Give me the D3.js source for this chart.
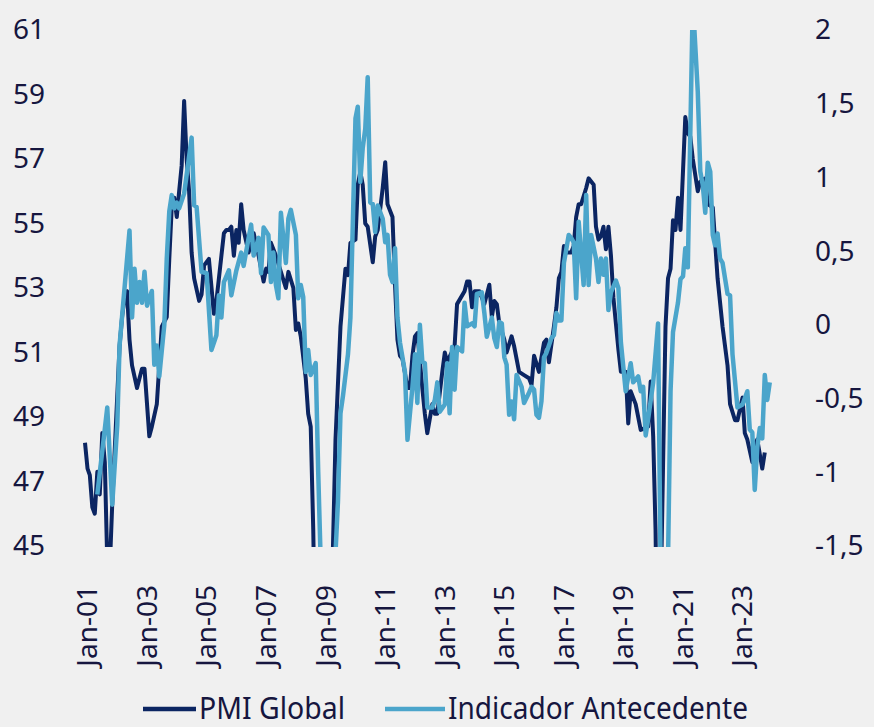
<!DOCTYPE html>
<html>
<head>
<meta charset="utf-8">
<script src="https://cdn.jsdelivr.net/npm/d3@7"></script>
<style>
  body { margin: 0; background: #f0f0f0; }
  svg { display: block; font-family: "Noto Sans", sans-serif; }
</style>
</head>
<body>
<svg class="chart"></svg>
<script>
// DATA ///////////////////////////////////////
const pmiDates = [
  "2001-01","2001-02","2001-03","2001-04","2001-05","2001-06","2001-07","2001-08","2001-09","2001-10","2001-11","2001-12",
  "2002-03","2002-04","2002-05","2002-06","2002-07","2002-08","2002-10","2002-12",
  "2003-01","2003-03","2003-04","2003-06","2003-08","2003-10","2003-11","2003-12",
  "2004-01","2004-02","2004-03","2004-04","2004-05","2004-06","2004-07","2004-08","2004-09","2004-11","2004-12",
  "2005-01","2005-03","2005-05","2005-06","2005-09","2005-10","2005-11","2005-12",
  "2006-01","2006-02","2006-03","2006-04","2006-05","2006-07","2006-08","2006-09","2006-11",
  "2007-01","2007-02","2007-03","2007-04","2007-06","2007-08","2007-10","2007-11",
  "2008-01","2008-02","2008-03","2008-04","2008-06","2008-07","2008-08","2008-09","2008-10","2008-11","2008-12",
  "2009-01","2009-02","2009-03","2009-04","2009-05","2009-06","2009-08","2009-10","2009-11","2009-12",
  "2010-02","2010-03","2010-04","2010-05","2010-06","2010-07","2010-09","2010-10","2010-11",
  "2011-01","2011-02","2011-03","2011-05","2011-06","2011-07","2011-08","2011-09","2011-11","2011-12",
  "2012-01","2012-02","2012-03","2012-05","2012-06","2012-07","2012-09","2012-10","2012-11",
  "2013-01","2013-02","2013-03","2013-06","2013-07","2013-10","2013-11","2013-12",
  "2014-01","2014-02","2014-04","2014-06","2014-08","2014-09","2014-10","2014-11","2014-12",
  "2015-02","2015-03","2015-05","2015-06","2015-08","2015-10","2015-12",
  "2016-01","2016-02","2016-04","2016-06","2016-07","2016-08","2016-10","2016-11","2016-12",
  "2017-01","2017-02","2017-03","2017-05","2017-06","2017-07","2017-08","2017-09","2017-11","2017-12",
  "2018-01","2018-02","2018-03","2018-04","2018-05","2018-06","2018-07","2018-08","2018-09","2018-10","2018-12",
  "2019-01","2019-03","2019-04","2019-05","2019-07","2019-09","2019-12",
  "2020-01","2020-02","2020-03","2020-04","2020-05","2020-06","2020-07","2020-08","2020-09","2020-10","2020-11","2020-12",
  "2021-01","2021-03","2021-04","2021-05","2021-06","2021-08","2021-09","2021-11","2021-12",
  "2022-02","2022-04","2022-06","2022-08","2022-09","2022-11","2022-12",
  "2023-02","2023-03","2023-04","2023-06","2023-07","2023-08","2023-10","2023-11"
];
const pmiValues = [
  48.2,47.4,47.2,46.2,46.0,47.3,46.6,48.5,47.6,44.5,44.3,46.3,
  51.2,52.1,52.7,52.9,51.4,50.6,49.9,50.5,
  50.5,48.4,48.7,49.4,51.8,52.1,53.9,55.5,
  55.8,55.2,56.0,56.8,58.8,57.0,56.0,54.1,53.3,52.6,52.8,
  53.7,53.9,52.2,52.6,54.7,54.8,54.8,54.9,
  54.0,54.8,54.4,55.6,54.8,54.1,54.4,54.7,54.0,
  53.2,53.6,53.5,54.4,54.0,53.5,53.0,53.5,
  53.0,51.7,51.9,51.5,50.2,49.1,48.7,45.5,41.0,37.5,33.5,
  34.5,35.0,37.5,41.0,45.0,48.3,51.8,53.6,53.4,54.4,
  54.5,56.2,56.6,56.2,55.0,54.9,53.8,54.6,54.8,
  56.1,56.9,55.6,55.2,53.1,51.4,50.9,50.8,49.9,49.9,
  50.9,51.5,51.6,49.9,49.1,48.5,49.4,49.1,49.1,
  50.4,51.0,50.7,51.2,52.5,52.9,53.2,53.2,
  52.4,52.9,52.9,52.5,53.1,52.1,52.6,52.5,51.9,
  51.4,51.0,51.5,51.2,50.4,50.3,50.2,
  50.0,50.9,50.4,51.3,51.4,50.7,51.8,52.4,53.3,
  53.5,54.3,54.1,54.1,54.3,55.2,55.6,55.6,56.1,56.4,
  56.3,56.2,54.9,54.5,54.6,54.9,54.2,54.9,54.0,52.7,51.1,
  50.4,50.4,48.8,49.8,49.4,48.6,48.7,
  50.1,48.4,45.5,39.5,43.0,47.5,51.8,53.3,53.6,55.1,54.8,55.8,
  54.8,58.3,57.8,57.7,57.0,56.0,56.3,56.4,55.6,
  55.5,53.3,51.8,50.6,49.4,48.9,48.9,
  49.6,48.5,48.3,47.6,48.1,48.3,47.4,47.9
];

const indDates = [
  "2001-06","2001-10","2001-12",
  "2002-02","2002-03","2002-07","2002-08","2002-09","2002-10","2002-11","2002-12",
  "2003-01","2003-02","2003-04","2003-05","2003-06","2003-07","2003-09","2003-10","2003-11","2003-12",
  "2004-01","2004-02","2004-03","2004-05","2004-08","2004-09","2004-10","2004-12",
  "2005-02","2005-04","2005-06","2005-07","2005-08","2005-09","2005-11","2005-12",
  "2006-02","2006-04","2006-05","2006-07","2006-08","2006-09","2006-11","2006-12",
  "2007-01","2007-03","2007-04","2007-05","2007-06","2007-07","2007-08","2007-10","2007-11","2007-12",
  "2008-02","2008-03","2008-04","2008-05","2008-06","2008-07","2008-08","2008-10","2008-11","2008-12",
  "2009-01","2009-02","2009-03","2009-04","2009-05","2009-06","2009-07","2009-08","2009-09","2009-11","2009-12",
  "2010-02","2010-03","2010-04","2010-05","2010-06","2010-07","2010-08","2010-09","2010-10","2010-11",
  "2011-01","2011-02","2011-03","2011-04","2011-05","2011-06","2011-07","2011-08","2011-10","2011-11",
  "2012-01","2012-02","2012-03","2012-04","2012-05","2012-06","2012-07","2012-09","2012-10","2012-11","2012-12",
  "2013-02","2013-03","2013-04","2013-05","2013-06","2013-07","2013-09","2013-10","2013-11",
  "2014-01","2014-02","2014-03","2014-05","2014-06","2014-07","2014-09","2014-10","2014-11","2014-12",
  "2015-01","2015-02","2015-03","2015-04","2015-05","2015-06","2015-07","2015-09","2015-10","2015-12",
  "2016-01","2016-02","2016-03","2016-04","2016-05","2016-06","2016-07","2016-09","2016-10","2016-11","2016-12",
  "2017-01","2017-02","2017-04","2017-05","2017-06","2017-07","2017-08","2017-10","2017-11","2017-12",
  "2018-01","2018-03","2018-04","2018-05","2018-06","2018-07","2018-08","2018-09","2018-11","2018-12",
  "2019-01","2019-03","2019-05","2019-06","2019-08","2019-09","2019-10","2019-11","2019-12",
  "2020-02","2020-04","2020-05","2020-06","2020-07","2020-08","2020-09","2020-10","2020-12",
  "2021-01","2021-02","2021-03","2021-04","2021-05","2021-06","2021-08","2021-09","2021-10","2021-11","2021-12",
  "2022-01","2022-02","2022-03","2022-04","2022-05","2022-06","2022-08","2022-09","2022-10","2022-12",
  "2023-02","2023-04","2023-05","2023-06","2023-07","2023-08","2023-09","2023-10","2023-11","2023-12",
  "2024-01"
];
const indValues = [
  -1.15,-0.56,-1.22,
  -0.68,-0.14,0.64,0.05,0.38,0.15,0.29,0.15,
  0.36,0.13,0.23,-0.27,-0.14,-0.35,0.0,0.45,0.77,0.88,
  0.79,0.83,0.79,0.89,1.27,0.81,0.80,0.36,
  0.35,-0.17,-0.07,0.20,0.05,0.29,0.37,0.20,
  0.37,0.49,0.40,0.59,0.68,0.47,0.59,0.35,
  0.66,0.61,0.29,0.49,0.27,0.18,0.76,0.42,0.72,0.78,
  0.61,0.18,0.27,0.19,-0.32,-0.17,-0.34,-0.26,-1.0,-1.6,
  -2.3,-2.6,-2.4,-2.1,-1.8,-1.55,-1.2,-0.6,-0.48,-0.2,0.05,
  1.40,1.48,0.97,1.20,1.33,1.68,0.83,0.82,0.63,0.81,
  0.72,0.56,0.61,0.34,0.29,0.52,0.05,-0.12,-0.32,-0.78,
  -0.42,-0.20,-0.53,0.0,-0.25,-0.26,-0.56,-0.56,-0.51,-0.39,-0.59,
  -0.54,-0.26,-0.60,-0.15,-0.44,-0.15,-0.18,0.15,-0.01,
  0.01,-0.01,0.21,0.22,0.08,-0.08,0.05,-0.09,-0.15,0.02,
  0.01,-0.22,-0.27,-0.61,-0.52,-0.64,-0.34,-0.42,-0.53,-0.46,
  -0.42,-0.44,-0.61,-0.63,-0.52,-0.22,-0.19,-0.09,-0.07,0.08,0.03,
  0.03,0.42,0.61,0.59,0.56,0.18,0.70,0.27,0.88,0.27,
  0.61,0.45,0.29,0.45,0.34,0.45,0.10,0.22,0.30,0.25,
  -0.12,-0.45,-0.26,-0.39,-0.35,-0.45,-0.42,-0.75,-0.64,
  -0.39,0.01,-1.6,-3.0,-2.5,-1.6,-0.45,-0.05,0.15,
  0.31,0.33,0.52,0.39,1.29,2.2,1.58,1.04,0.95,0.76,1.10,
  1.04,0.61,0.54,0.62,0.45,0.42,0.21,0.20,-0.20,-0.56,
  -0.54,-0.45,-0.71,-0.73,-1.12,-0.83,-0.70,-0.77,-0.34,-0.51,
  -0.39
];

const xTickDates = ["2001-01","2003-01","2005-01","2007-01","2009-01","2011-01",
  "2013-01","2015-01","2017-01","2019-01","2021-01","2023-01"];
const leftTicks = [45, 47, 49, 51, 53, 55, 57, 59, 61];
const rightTicks = [-1.5, -1, -0.5, 0, 0.5, 1, 1.5, 2];
const seriesNames = ["PMI Global", "Indicador Antecedente"];

// DEFINITIONS ////////////////////////////////
const W = 874, H = 727;
const plotTop = 30, plotBottom = 546;
const navy = "#0b2562", light = "#4ba5cb", ink = "#16163f";
const parse = d3.timeParse("%Y-%m");

const svg = d3.select(".chart").attr("width", W).attr("height", H);
svg.append("rect").attr("width", W).attr("height", H).attr("fill", "#f0f0f0");

const x = d3.scaleTime()
  .domain([parse("2001-01"), parse("2023-01")])
  .range([85, 740]);
const yL = d3.scaleLinear().domain([45, 61]).range([plotBottom, plotTop]);
const yR = d3.scaleLinear().domain([-1.5, 2]).range([plotBottom, plotTop]);

const pmi = pmiDates.map((d, i) => ({ date: parse(d), v: pmiValues[i] }));
const ind = indDates.map((d, i) => ({ date: parse(d), v: indValues[i] }));

// AXES ///////////////////////////////////////
const styleAxis = (g) => {
  g.select(".domain").remove();
  g.selectAll("text")
    .attr("fill", ink)
    .style("font-size", "28px")
    .style("font-family", "'Noto Sans', sans-serif");
};

svg.append("g")
  .attr("transform", "translate(52,0)")
  .call(d3.axisLeft(yL).tickValues(leftTicks).tickSize(0).tickPadding(7))
  .call(styleAxis);

svg.append("g")
  .attr("transform", "translate(808,0)")
  .call(d3.axisRight(yR).tickValues(rightTicks).tickSize(0).tickPadding(7)
    .tickFormat((d) => String(d).replace(".", ",")))
  .call(styleAxis);

svg.append("g")
  .attr("transform", "translate(2,560)")
  .call(d3.axisBottom(x).tickValues(xTickDates.map(parse)).tickSize(0)
    .tickFormat(d3.timeFormat("%b-%y")))
  .call(styleAxis)
  .selectAll("text")
  .attr("transform", "rotate(-90)")
  .attr("x", -25)
  .attr("y", 0)
  .attr("dy", "0.35em")
  .style("text-anchor", "end");

// LINES //////////////////////////////////////
svg.append("clipPath").attr("id", "plot")
  .append("rect").attr("x", 0).attr("y", plotTop)
  .attr("width", W).attr("height", plotBottom - plotTop + 1);

const plot = svg.append("g").attr("clip-path", "url(#plot)");

plot.append("path")
  .datum(pmi)
  .attr("fill", "none")
  .attr("stroke", navy)
  .attr("stroke-width", 4)
  .attr("stroke-linejoin", "round")
  .attr("d", d3.line().x((d) => x(d.date)).y((d) => yL(d.v)));

plot.append("path")
  .datum(ind)
  .attr("fill", "none")
  .attr("stroke", light)
  .attr("stroke-width", 4.5)
  .attr("stroke-linejoin", "round")
  .attr("d", d3.line().x((d) => x(d.date)).y((d) => yR(d.v)));

// LEGEND /////////////////////////////////////
const legend = [
  { name: seriesNames[0], color: navy, x0: 143, x1: 196, tx: 199, len: 146 },
  { name: seriesNames[1], color: light, x0: 385, x1: 445, tx: 448, len: 300 },
];
const lg = svg.append("g").selectAll("g").data(legend).enter().append("g");
lg.append("line")
  .attr("x1", (d) => d.x0).attr("x2", (d) => d.x1)
  .attr("y1", 709).attr("y2", 709)
  .attr("stroke", (d) => d.color).attr("stroke-width", 4.5);
lg.append("text")
  .attr("x", (d) => d.tx).attr("y", 719)
  .attr("fill", ink)
  .style("font-size", "31px")
  .attr("textLength", (d) => d.len)
  .attr("lengthAdjust", "spacingAndGlyphs")
  .text((d) => d.name);
</script>
</body>
</html>
